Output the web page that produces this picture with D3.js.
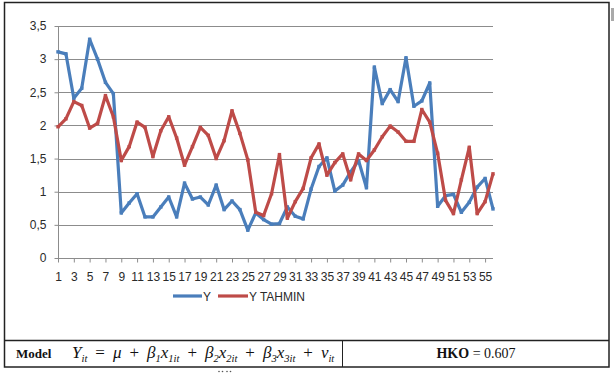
<!DOCTYPE html>
<html><head><meta charset="utf-8">
<script src="https://cdn.jsdelivr.net/npm/d3@7"></script>
<style>html,body{margin:0;padding:0;background:#fff;}svg{display:block;}</style>
</head><body>
<svg id="c" width="614" height="377"></svg>
<script>
const categories = d3.range(1, 57);
const seriesY = [3.11,3.08,2.41,2.56,3.30,3.00,2.65,2.48,0.68,0.83,0.97,0.62,0.62,0.77,0.92,0.62,1.13,0.89,0.92,0.80,1.10,0.73,0.86,0.73,0.42,0.68,0.58,0.51,0.52,0.77,0.63,0.59,1.04,1.38,1.51,1.01,1.10,1.30,1.47,1.06,2.88,2.33,2.54,2.36,3.02,2.29,2.37,2.64,0.78,0.94,0.96,0.69,0.84,1.07,1.20,0.74];
const seriesTahmin = [1.98,2.10,2.36,2.30,1.96,2.03,2.45,2.13,1.47,1.68,2.05,1.97,1.53,1.92,2.13,1.81,1.40,1.68,1.97,1.85,1.50,1.77,2.22,1.88,1.48,0.69,0.64,0.97,1.56,0.60,0.85,1.05,1.51,1.72,1.25,1.44,1.57,1.18,1.57,1.47,1.63,1.83,1.99,1.90,1.76,1.76,2.24,2.05,1.58,0.87,0.67,1.18,1.67,0.67,0.85,1.27];
const yTicks = [0,0.5,1,1.5,2,2.5,3,3.5];
const xTickLabels = categories.filter(c => c % 2 === 1);
const seriesNames = ["Y", "Y TAHMIN"];
const colors = ["#4a7ebb", "#be4b48"];

const svg = d3.select("#c");
const x = d3.scalePoint().domain(categories).range([58, 493]);
const y = d3.scaleLinear().domain([0, 3.5]).range([258, 26]);
const fmt = v => String(v).replace(".", ",");
const sans = "Liberation Sans, Arial, sans-serif";

// frame
svg.append("rect").attr("x",4.5).attr("y",2.5).attr("width",604.5).attr("height",364.5)
  .attr("fill","none").attr("stroke","#222").attr("stroke-width",1.5);
svg.append("line").attr("x1",4.5).attr("x2",609).attr("y1",340.5).attr("y2",340.5).attr("stroke","#222").attr("stroke-width",1.5);
svg.append("line").attr("x1",342.5).attr("x2",342.5).attr("y1",340.5).attr("y2",367).attr("stroke","#222").attr("stroke-width",1);
svg.append("rect").attr("x",611).attr("y",8).attr("width",3).attr("height",13).attr("fill","#aaa");

// gridlines
svg.append("g").selectAll("line").data(yTicks.filter(d=>d>0)).join("line")
  .attr("x1",58).attr("x2",493).attr("y1",d=>Math.round(y(d))+0.5).attr("y2",d=>Math.round(y(d))+0.5)
  .attr("stroke","#8c8c8c").attr("stroke-width",1);

// y axis
const ya = svg.append("g").attr("transform","translate(58.5,0)")
  .call(d3.axisLeft(y).tickValues(yTicks).tickFormat(fmt).tickSize(4).tickPadding(8));
ya.select(".domain").attr("stroke","#8c8c8c").attr("d","M0,"+y(3.5)+"V"+y(0));
ya.selectAll(".tick line").attr("stroke","#8c8c8c");
ya.selectAll("text").attr("font-family",sans).attr("font-size","12px").attr("fill","#2a2a2a");

// x axis
const xa = svg.append("g").attr("transform","translate(0,"+(Math.round(y(0))+0.5)+")")
  .call(d3.axisBottom(x).tickValues(xTickLabels).tickSize(4).tickPadding(10));
xa.select(".domain").attr("stroke","#8c8c8c").attr("d","M58,0H493");
xa.selectAll(".tick line").attr("stroke","#8c8c8c");
xa.selectAll("text").attr("font-family",sans).attr("font-size","12px").attr("fill","#2a2a2a");

// lines
const line = d3.line().x((d,i)=>x(categories[i])).y(d=>y(d));
[seriesY, seriesTahmin].forEach((s,k)=>{
  svg.append("path").datum(s).attr("d",line).attr("fill","none")
    .attr("stroke",colors[k]).attr("stroke-width",3.2).attr("stroke-linejoin","round");
  svg.append("g").selectAll("rect").data(s).join("rect")
    .attr("x",(d,i)=>x(categories[i])-1.7).attr("y",d=>y(d)-1.7).attr("width",3.4).attr("height",3.4)
    .attr("fill",colors[k]);
});

// legend
const leg = [{x1:173,x2:202,tx:203},{x1:218,x2:248,tx:249}];
leg.forEach((l,k)=>{
  svg.append("line").attr("x1",l.x1).attr("x2",l.x2).attr("y1",296).attr("y2",296)
    .attr("stroke",colors[k]).attr("stroke-width",3.2);
  svg.append("text").attr("x",l.tx).attr("y",300.5).text(seriesNames[k])
    .attr("font-family",sans).attr("font-size","12px").attr("fill","#2a2a2a");
});

// table text
const serif = "Liberation Serif, Times New Roman, serif";
svg.append("text").attr("x",16).attr("y",358).text("Model")
  .attr("font-family",serif).attr("font-weight","bold").attr("font-size","13px").attr("fill","#111");
const f = svg.append("text").attr("x",72).attr("y",358).attr("font-family",serif).attr("font-size","17px").attr("fill","#111");
const parts = [
  ["Y","i"],["it","s"],["=","o"],["μ","i"],["+","o"],
  ["β","i"],["1","s"],["x","i"],["1it","s"],["+","o"],
  ["β","i"],["2","s"],["x","i"],["2it","s"],["+","o"],
  ["β","i"],["3","s"],["x","i"],["3it","s"],["+","o"],
  ["v","i"],["it","s"]
];
let sub = false, afterOp = false;
parts.forEach(([t,k])=>{
  const ts = f.append("tspan").text(t);
  let dx = afterOp ? 8 : 0;
  afterOp = false;
  if (k==="s") { ts.attr("font-size","10.5px").attr("font-style","italic"); if(!sub){ts.attr("dy",3.5); sub=true;} }
  else {
    if(sub){ts.attr("dy",-3.5); sub=false;}
    if(k==="i") ts.attr("font-style","italic");
    if(k==="o") { dx += 8; afterOp = true; }
  }
  if (dx) ts.attr("dx",dx);
});
const h = svg.append("text").attr("x",476).attr("y",358).attr("text-anchor","middle")
  .attr("font-family",serif).attr("font-size","14px").attr("fill","#111");
h.append("tspan").text("HKO").attr("font-weight","bold");
h.append("tspan").text(" = 0.607");
// small stray marks below the table
[219,222.5,227,230.5].forEach(cx=>svg.append("circle").attr("cx",cx).attr("cy",371.5).attr("r",0.8).attr("fill","#555"));
</script>
</body></html>
